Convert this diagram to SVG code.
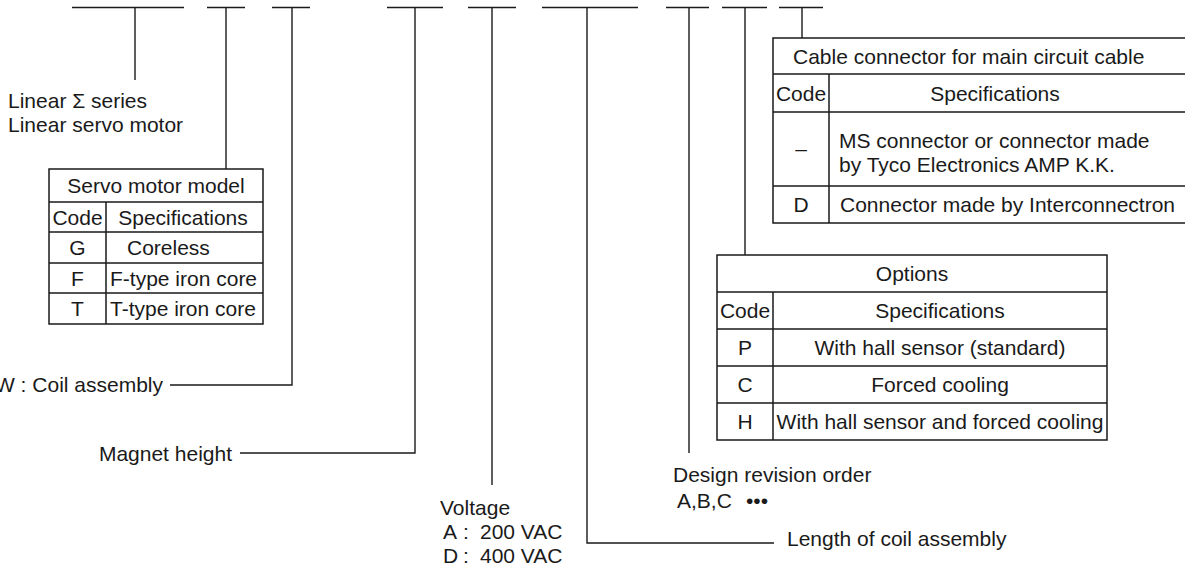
<svg xmlns="http://www.w3.org/2000/svg" width="1185" height="568" viewBox="0 0 1185 568">
<style>
text{font-family:"Liberation Sans",Arial,Helvetica,sans-serif;font-size:21px;fill:#1a1a1a}
.m{text-anchor:middle}
.e{text-anchor:end}
.ln{stroke:#1a1a1a;stroke-width:1.4;fill:none}
.tb{stroke:#1a1a1a;stroke-width:1.5;fill:none}
</style>
<rect width="1185" height="568" fill="#fff"/>
<g id="connectors" class="ln">
<path d="M72 7.5H184M135 7.5V80"/>
<path d="M207 7.5H245M226 7.5V169"/>
<path d="M272 7.5H310M292 7.5V385H170"/>
<path d="M387 7.5H443M415 7.5V453H240"/>
<path d="M468 7.5H516M492 7.5V485"/>
<path d="M542 7.5H638M587 7.5V543H774"/>
<path d="M666 7.5H709M689 7.5V453"/>
<path d="M722 7.5H767M745 7.5V255"/>
<path d="M779 7.5H823M802 7.5V38"/>
</g>
<g id="label-series">
<text x="8" y="108">Linear Σ series</text>
<text x="8" y="132">Linear servo motor</text>
</g>
<g id="table-servo">
<path class="tb" d="M49 169H263V324H49ZM49 202H263M49 232H263M49 263H263M49 293H263M106 202V324"/>
<text class="m" x="156" y="193">Servo motor model</text>
<text class="m" x="77.5" y="224.5">Code</text>
<text class="m" x="183" y="224.5">Specifications</text>
<text class="m" x="77.5" y="255">G</text>
<text x="127" y="255">Coreless</text>
<text class="m" x="77.5" y="285.5">F</text>
<text x="110" y="285.5">F-type iron core</text>
<text class="m" x="77.5" y="316">T</text>
<text x="110" y="316">T-type iron core</text>
</g>
<g id="label-coil">
<text class="e" x="163" y="392">W : Coil assembly</text>
</g>
<g id="label-magnet">
<text class="e" x="232" y="461">Magnet height</text>
</g>
<g id="label-voltage">
<text x="440" y="515">Voltage</text>
<text y="539"><tspan x="443">A</tspan><tspan x="463">:</tspan><tspan x="480">200 VAC</tspan></text>
<text y="563"><tspan x="443">D</tspan><tspan x="463">:</tspan><tspan x="480">400 VAC</tspan></text>
</g>
<g id="label-length">
<text x="787" y="546">Length of coil assembly</text>
</g>
<g id="label-revision">
<text x="673" y="482">Design revision order</text>
<text y="508"><tspan x="677">A,B,C</tspan><tspan x="746">•••</tspan></text>
</g>
<g id="table-options">
<path class="tb" d="M717 255H1107V440H717ZM717 292H1107M717 329H1107M717 366H1107M717 403H1107M773 292V440"/>
<text class="m" x="912" y="281">Options</text>
<text class="m" x="745" y="318">Code</text>
<text class="m" x="940" y="318">Specifications</text>
<text class="m" x="745" y="355">P</text>
<text class="m" x="940" y="355">With hall sensor (standard)</text>
<text class="m" x="745" y="392">C</text>
<text class="m" x="940" y="392">Forced cooling</text>
<text class="m" x="745" y="429">H</text>
<text class="m" x="940" y="429">With hall sensor and forced cooling</text>
</g>
<g id="table-cable">
<path class="tb" d="M1190 38H773V223H1190M773 74H1190M773 112H1190M773 186H1190M829 74V223"/>
<text x="793" y="63.5">Cable connector for main circuit cable</text>
<text class="m" x="801" y="100.5">Code</text>
<text class="m" x="995" y="100.5">Specifications</text>
<text class="m" x="801" y="156">–</text>
<text x="839" y="148">MS connector or connector made</text>
<text x="839" y="172">by Tyco Electronics AMP K.K.</text>
<text class="m" x="801" y="212">D</text>
<text x="840" y="212">Connector made by Interconnectron</text>
</g>
</svg>
